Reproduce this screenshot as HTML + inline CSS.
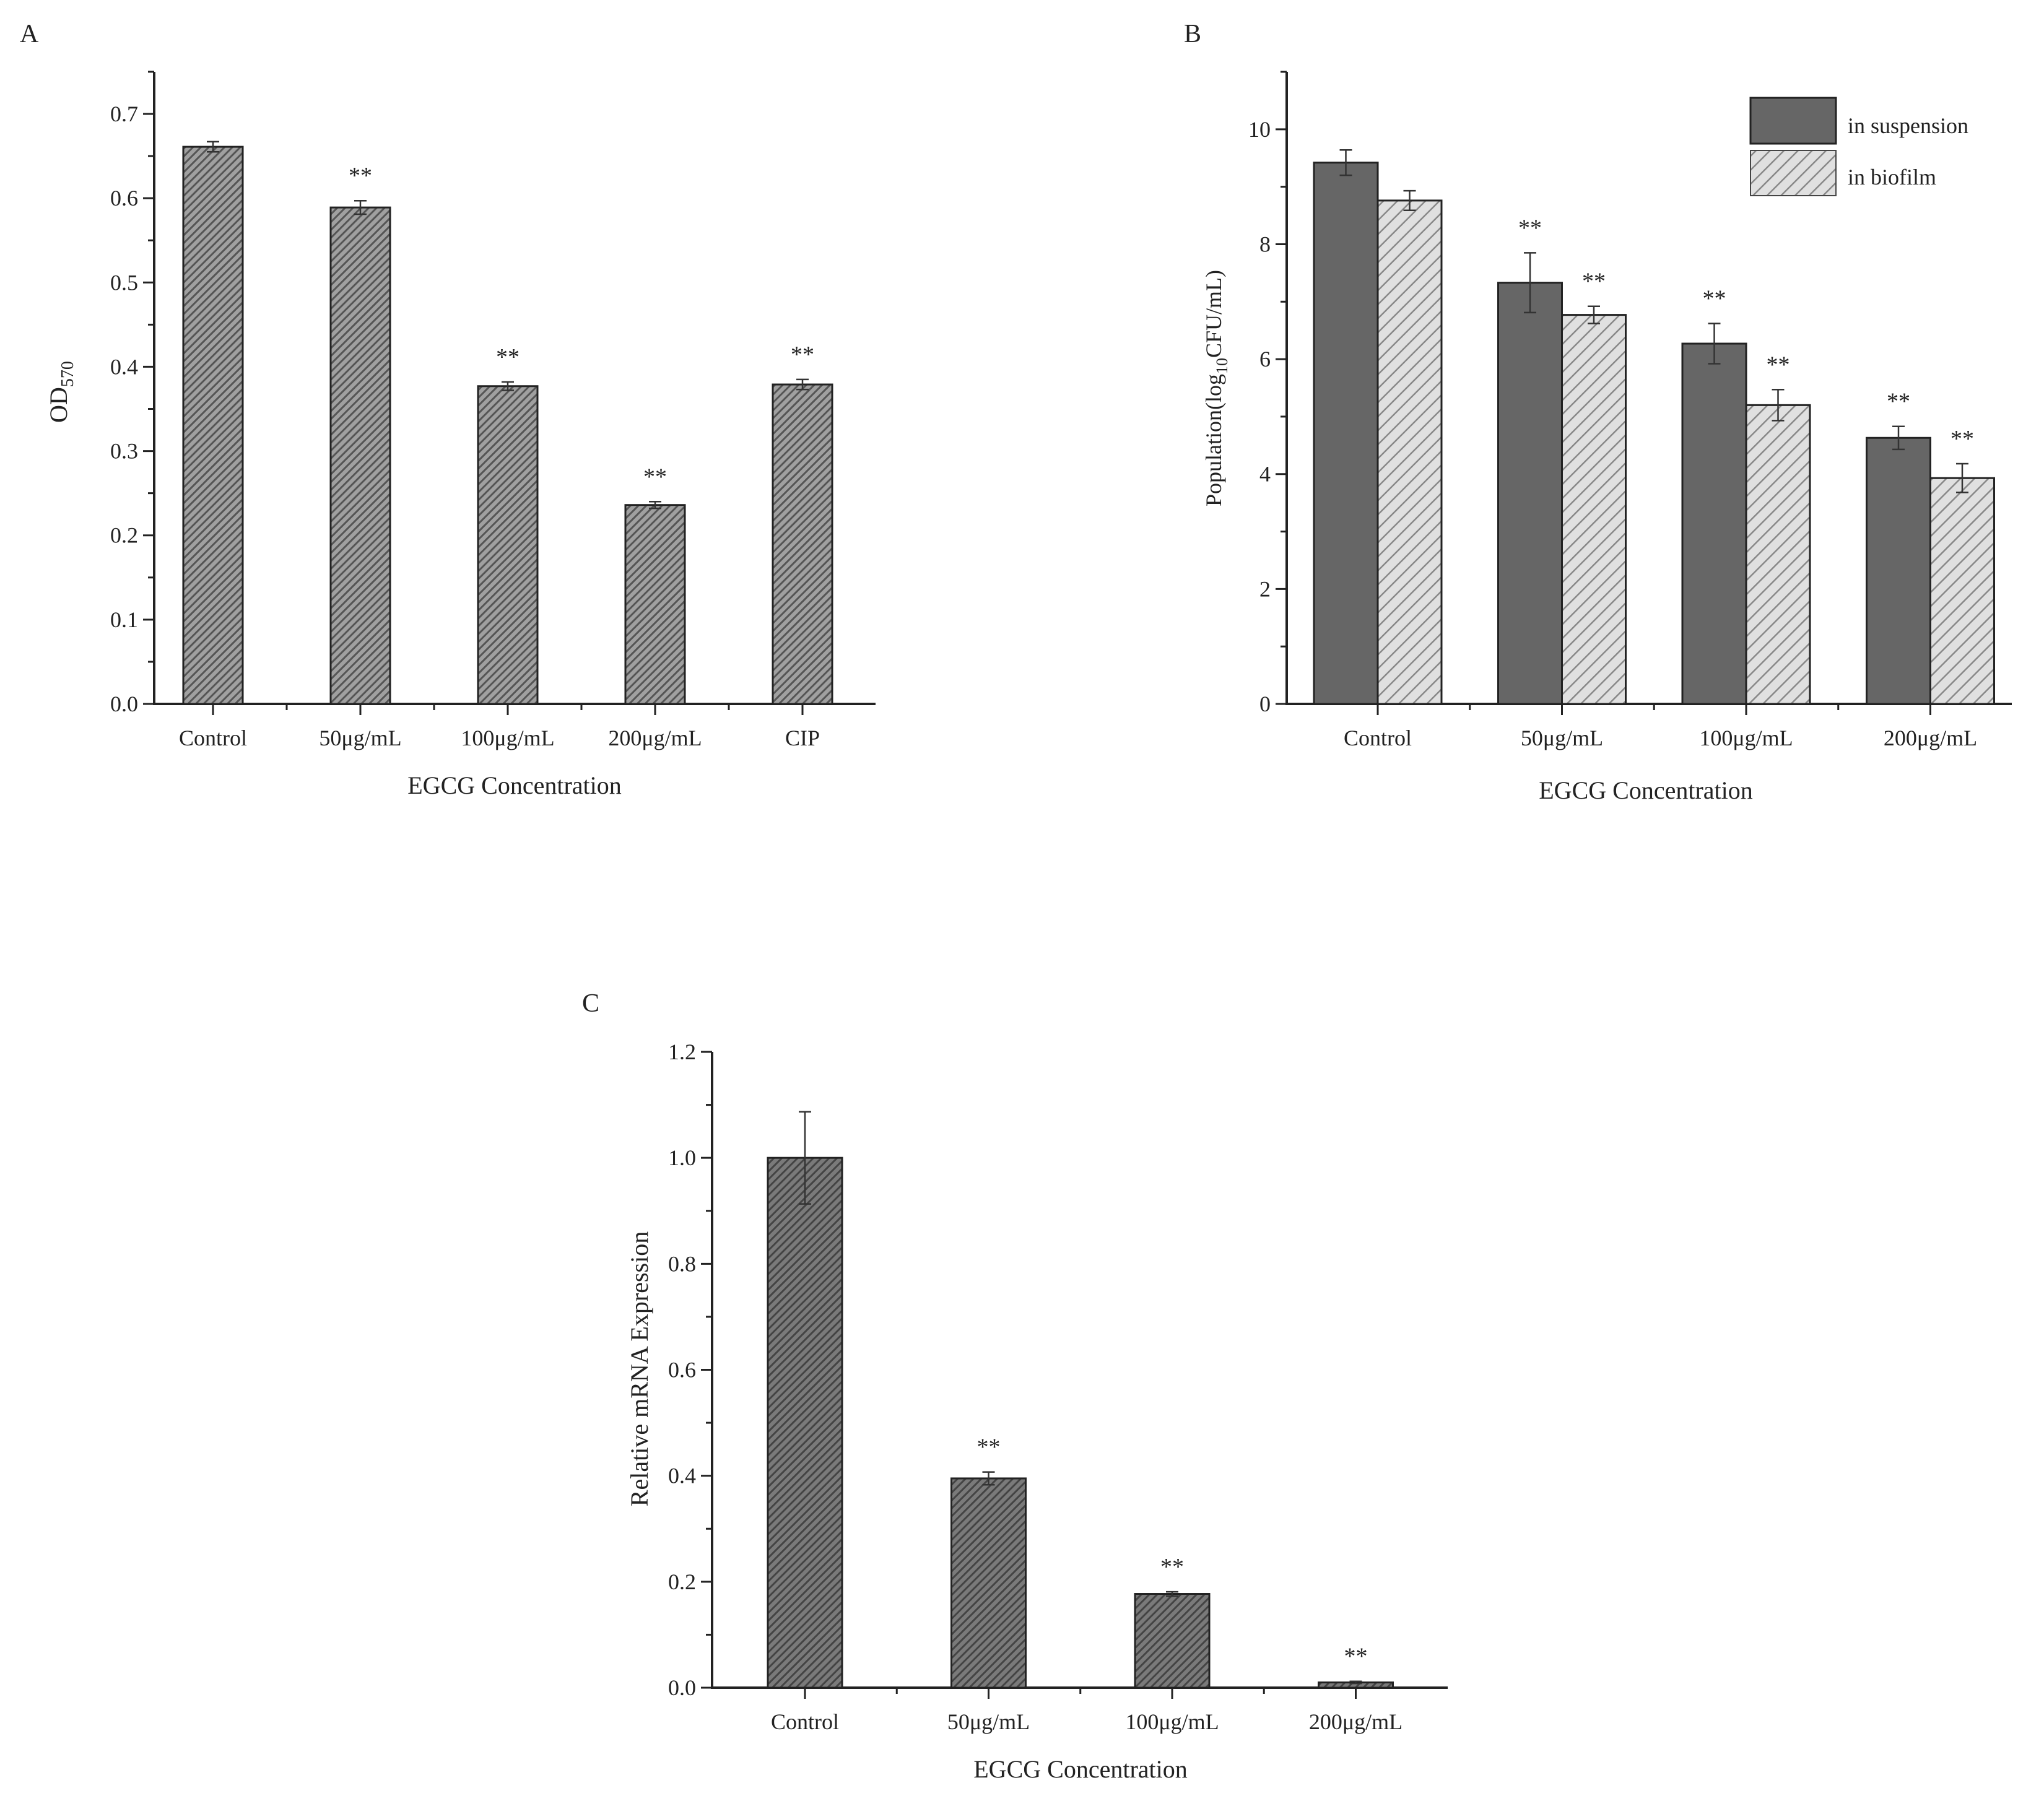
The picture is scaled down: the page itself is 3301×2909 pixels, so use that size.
<!DOCTYPE html>
<html><head><meta charset="utf-8"><style>
html,body{margin:0;padding:0;background:#fff;}
svg{display:block;font-family:"Liberation Serif",serif;}
</style></head><body>
<svg id="fig" width="3301" height="2909" viewBox="0 0 3301 2909" xmlns="http://www.w3.org/2000/svg">
<defs>
<pattern id="hatchA" patternUnits="userSpaceOnUse" width="9" height="9" patternTransform="rotate(45)">
<rect width="9" height="9" fill="#a0a0a0"/><rect width="3" height="9" fill="#555"/></pattern>
<pattern id="hatchC" patternUnits="userSpaceOnUse" width="9" height="9" patternTransform="rotate(45)">
<rect width="9" height="9" fill="#7a7a7a"/><rect width="3" height="9" fill="#444"/></pattern>
<pattern id="hatchB" patternUnits="userSpaceOnUse" width="16" height="16" patternTransform="rotate(45)">
<rect width="16" height="16" fill="#e0e0e0"/><rect width="2.5" height="16" fill="#888"/></pattern>
</defs>
<g id="root"></g>
</svg>
<script>
const catsA = ["Control","50μg/mL","100μg/mL","200μg/mL","CIP"];
const valsA = [0.661,0.589,0.377,0.236,0.379];
const errA = [0.006,0.008,0.005,0.004,0.006];
const sigA = ["","**","**","**","**"];
const ticksA = ["0.0","0.1","0.2","0.3","0.4","0.5","0.6","0.7"];

const catsB = ["Control","50μg/mL","100μg/mL","200μg/mL"];
const suspB = [9.42,7.33,6.27,4.63];
const suspErrB = [0.22,0.52,0.35,0.2];
const bioB = [8.76,6.77,5.2,3.93];
const bioErrB = [0.17,0.15,0.27,0.25];
const sigB = ["","**","**","**"];
const ticksB = ["0","2","4","6","8","10"];

const catsC = ["Control","50μg/mL","100μg/mL","200μg/mL"];
const valsC = [1.0,0.395,0.177,0.01];
const errC = [0.087,0.012,0.004,0.002];
const sigC = ["","**","**","**"];
const ticksC = ["0.0","0.2","0.4","0.6","0.8","1.0","1.2"];

const NS="http://www.w3.org/2000/svg";
const root=document.getElementById('root');
function mk(tag,attrs,parent,text){const e=document.createElementNS(NS,tag);for(const k in attrs)e.setAttribute(k,attrs[k]);if(text!==undefined)e.textContent=text;(parent||root).appendChild(e);return e;}

function axes(g,cfg){
  const {x0,x1,yb,yt,ymax,ticks,minor,cats,cx,fs}=cfg;
  const Y=v=>yb-(v/ymax)*(yb-yt)*cfg.k;
  const ax=mk('line',{x1:x0,y1:yt,x2:x0,y2:yb,stroke:'#222','stroke-width':4},g);
  
  
  const bx=mk('line',{x1:x0-2,y1:yb,x2:x1,y2:yb,stroke:'#222','stroke-width':4},g);
  
  
  ticks.forEach((t,i)=>{
    const v=parseFloat(t);const y=Y(v);
    mk('line',{x1:x0-18,y1:y,x2:x0,y2:y,stroke:'#222','stroke-width':3},g);
    const tl=mk('text',{x:x0-26,y:y+12,'font-size':fs,'text-anchor':'end',fill:'#222'},g,t);
    
    
    if(i<ticks.length-1){const ym=Y(v+minor);mk('line',{x1:x0-10,y1:ym,x2:x0,y2:ym,stroke:'#222','stroke-width':3},g);}
  });
  if(cfg.topMinor){mk('line',{x1:x0-10,y1:Y(cfg.topMinor),x2:x0,y2:Y(cfg.topMinor),stroke:'#222','stroke-width':3},g);}
  cats.forEach((c,i)=>{
    const x=cx(i);
    mk('line',{x1:x,y1:yb,x2:x,y2:yb+18,stroke:'#222','stroke-width':3},g);
    if(i<cats.length-1){const xm=(x+cx(i+1))/2;mk('line',{x1:xm,y1:yb,x2:xm,y2:yb+10,stroke:'#222','stroke-width':3},g);}
    const xl=mk('text',{x:x,y:cfg.labY,'font-size':fs,'text-anchor':'middle',fill:'#222'},g,c);
    
    
  });
  return Y;
}
function bar(g,x,w,v,e,Y,fill,sig,yb,name){
  const r=mk('rect',{x:x,y:Y(v),width:w,height:yb-Y(v),fill:fill,stroke:'#222','stroke-width':3},g);
  
  
  const c=x+w/2,t=Y(v+e),b=Y(v-e);
  mk('line',{x1:c,y1:t,x2:c,y2:b,stroke:'#333','stroke-width':2.5},g);
  mk('line',{x1:c-10,y1:t,x2:c+10,y2:t,stroke:'#333','stroke-width':2.5},g);
  mk('line',{x1:c-10,y1:b,x2:c+10,y2:b,stroke:'#333','stroke-width':2.5},g);
  if(sig){const s=mk('text',{x:c,y:t-28,'font-size':38,'text-anchor':'middle',fill:'#222'},g,sig);
    
    }
}

// Panel A
const gA=mk('g',{});


mk('text',{x:32,y:68,'font-size':42,fill:'#222'},gA,'A');
const cxA=i=>344+i*238;
const YA=axes(gA,{x0:249,x1:1414,yb:1137,yt:116,ymax:0.7,k:(1137-184)/(1137-116),ticks:ticksA,minor:0.05,topMinor:0.75,cats:catsA,cx:cxA,fs:36,labY:1204});
catsA.forEach((c,i)=>bar(gA,cxA(i)-48,96,valsA[i],errA[i],YA,'url(#hatchA)',sigA[i],1137,'bar-a-'+i));
const tA=mk('text',{x:831,y:1282,'font-size':40,'text-anchor':'middle',fill:'#222'},gA,'EGCG Concentration');


const ylA=mk('text',{transform:'translate(108,633) rotate(-90)','font-size':40,'text-anchor':'middle',fill:'#222'},gA);


mk('tspan',{},ylA,'OD');mk('tspan',{'font-size':28,dy:10},ylA,'570');

// Panel B
const gB=mk('g',{});


mk('text',{x:1912,y:68,'font-size':42,fill:'#222'},gB,'B');
const cxB=i=>2225+i*297.5;
const YB=axes(gB,{x0:2078,x1:3249,yb:1137,yt:116,ymax:11,k:1,ticks:ticksB,minor:1,topMinor:11,cats:catsB,cx:cxB,fs:36,labY:1204});
catsB.forEach((c,i)=>{
  bar(gB,cxB(i)-103,103,suspB[i],suspErrB[i],YB,'#666',sigB[i],1137,'bar-suspension-'+i);
  bar(gB,cxB(i),103,bioB[i],bioErrB[i],YB,'url(#hatchB)',sigB[i],1137,'bar-biofilm-'+i);
});
const lg1=mk('rect',{x:2827,y:158,width:138,height:74,fill:'#666',stroke:'#222','stroke-width':3},gB);


mk('text',{x:2984,y:215,'font-size':36,fill:'#222'},gB,'in suspension');
const lg2=mk('rect',{x:2827,y:243,width:138,height:73,fill:'url(#hatchB)',stroke:'#444','stroke-width':2},gB);


mk('text',{x:2984,y:298,'font-size':36,fill:'#222'},gB,'in biofilm');
const tB=mk('text',{x:2658,y:1290,'font-size':40,'text-anchor':'middle',fill:'#222'},gB,'EGCG Concentration');


const ylB=mk('text',{transform:'translate(1972,627) rotate(-90)','font-size':36,'text-anchor':'middle',fill:'#222'},gB);


mk('tspan',{},ylB,'Population(log');mk('tspan',{'font-size':26,dy:10},ylB,'10');mk('tspan',{dy:-10},ylB,'CFU/mL)');

// Panel C
const gC=mk('g',{});


mk('text',{x:940,y:1634,'font-size':42,fill:'#222'},gC,'C');
const cxC=i=>1300+i*296.5;
const YC=axes(gC,{x0:1150,x1:2338,yb:2726,yt:1699,ymax:1.2,k:1,ticks:ticksC,minor:0.1,cats:catsC,cx:cxC,fs:36,labY:2793});
catsC.forEach((c,i)=>bar(gC,cxC(i)-60,120,valsC[i],errC[i],YC,'url(#hatchC)',sigC[i],2726,'bar-c-'+i));
const tC=mk('text',{x:1745,y:2871,'font-size':40,'text-anchor':'middle',fill:'#222'},gC,'EGCG Concentration');


const ylC=mk('text',{transform:'translate(1046,2211) rotate(-90)','font-size':40,'text-anchor':'middle',fill:'#222'},gC,'Relative mRNA Expression');


</script>
</body></html>
